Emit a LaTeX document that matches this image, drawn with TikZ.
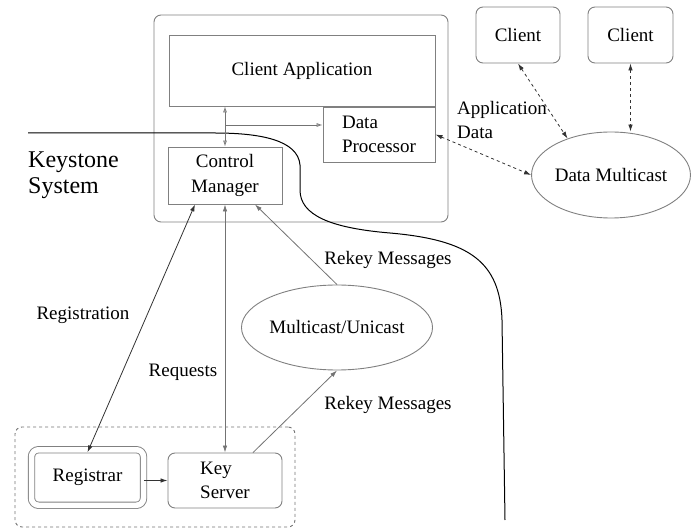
\documentclass[tikz,border=0pt]{standalone}
\usepackage{fontspec}
\setmainfont{Liberation Serif}
\usetikzlibrary{arrows.meta,shapes.geometric}
\definecolor{boxgray}{gray}{0.5}
\definecolor{linegray}{gray}{0.45}
\begin{document}
\begin{tikzpicture}[x=1pt,y=-1pt,
  every node/.style={font=\fontsize{19}{24.5}\selectfont},
  box/.style={draw=boxgray,line width=0.9pt,minimum width=#1,inner sep=0pt},
  rbox/.style={box=#1,rounded corners=7pt},
  oval/.style={draw=boxgray,line width=0.9pt,ellipse,inner sep=0pt},
  blk/.style={draw=black!80,line width=0.8pt},
  gl/.style={draw=linegray,line width=0.8pt},
  tip/.style={-{Latex[length=7pt,width=4.5pt]}},
  tips/.style={{Latex[length=7pt,width=4.5pt]}-{Latex[length=7pt,width=4.5pt]}},
  otips/.style={{Latex[open,length=6pt,width=4pt]}-{Latex[open,length=6pt,width=4pt]}},
  otip/.style={-{Latex[open,length=6pt,width=4pt]}},
  lbl/.style={inner sep=0pt}
]
\useasboundingbox (0,0) rectangle (691,529);

% Keystone container and inner components
\node[rbox=294pt,minimum height=207pt] (cont) at (301,118.5) {};
\node[box=266pt,minimum height=71pt] (capp) at (302,70.5) {Client Application};
\node[box=112pt,minimum height=55pt,align=left,fill=white] (dproc) at (379,134.5) {Data\\Processor};
\node[box=114pt,minimum height=57pt,align=center] (ctrl) at (225,175.5) {Control\\Manager};

% clients and data multicast
\node[rbox=84pt,minimum height=56pt] (cl1) at (518,35) {Client};
\node[rbox=85pt,minimum height=56pt] (cl2) at (630.5,35) {Client};
\node[oval,minimum width=158pt,minimum height=86pt] (dmc) at (611,175) {Data Multicast};

% lower part
\node[oval,minimum width=170pt,minimum height=85pt] (mcu) at (337,327.5) {Multicast/Unicast};
\node[rbox=280pt,minimum height=100pt,dashed,draw=linegray] (grp) at (155,477) {};
\node[rbox=112pt,minimum height=55.5pt,double,double distance=5.5pt] (reg) at (87.5,477.5) {Registrar};
\node[rbox=114pt,minimum height=55pt,align=left] (ks) at (225,480.5) {Key\\Server};

% Keystone boundary curve
\draw[line width=1pt,black] (28,133) -- (215,133)
  .. controls (260,133) and (298,140) .. (300,165) -- (300,190)
  .. controls (300,215) and (330,228) .. (390,233)
  .. controls (470,240) and (500,262) .. (502,320) -- (505,520);

% connectors inside container
\coordinate (j) at (225,125);
\draw[gl,otips] (ctrl.north) -- (ctrl.north |- capp.south);
\draw[gl,otip] (j) -- (j -| dproc.west);

% application data
\draw[blk,dashed,tips] (dproc.east) -- (dmc.west);
\draw[blk,dashed,tips] (cl1.south) -- (dmc.140);
\draw[blk,dashed,tips] (cl2.south) -- (cl2.south |- dmc.north);

% lower connectors
\draw[blk,tips] ([xshift=-30pt]ctrl.south) -- ([yshift=-3pt]reg.north);
\draw[gl,tips] (ctrl.south) -- (ctrl.south |- ks.north);
\draw[gl,tip] (mcu.north) -- ([xshift=30pt]ctrl.south);
\draw[gl,tip] ([xshift=28pt]ks.north) -- (mcu.south);
\draw[blk,tip] (ks.west -| reg.east) -- (ks.west);

% labels
\node[lbl,anchor=west,align=left,font=\fontsize{24}{26}\selectfont] (kst) at (28,175) {Keystone\\System};
\node[lbl,anchor=west,align=left] (appd) at (457,120) {Application\\Data};
\node[lbl] (lreg) at (83,315) {Registration};
\node[lbl] (lreq) at (183,372) {Requests};
\node[lbl] (lrk1) at (388,260) {Rekey Messages};
\node[lbl] (lrk2) at (388,405) {Rekey Messages};
\end{tikzpicture}
\end{document}
